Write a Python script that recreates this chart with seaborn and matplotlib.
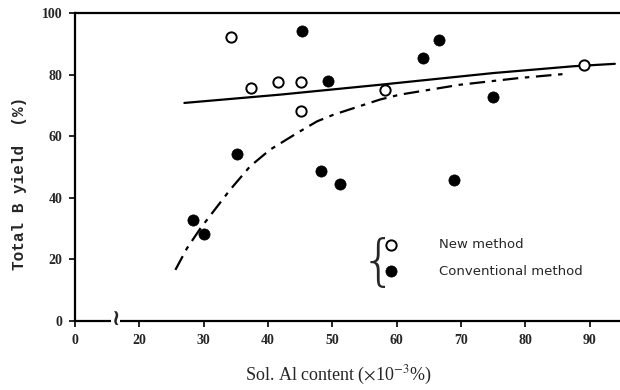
import matplotlib
matplotlib.use("Agg")
import matplotlib.pyplot as plt
import seaborn as sns

# datos (x en 10^-3 %, y en %)
new_x = [34.2, 37.4, 41.5, 45.2, 45.2, 58.2, 89.1]
new_y = [92.3, 75.5, 77.6, 77.7, 68.3, 74.9, 83.0]

conv_x = [28.4, 30.1, 35.2, 45.3, 48.2, 49.3, 51.2, 64.1, 66.5, 68.9, 75.0]
conv_y = [32.7, 28.4, 54.2, 94.3, 48.8, 77.9, 44.6, 85.3, 91.1, 45.9, 72.6]

# curva del metodo nuevo (linea continua)
solid_x = [27.0, 41.9, 57.4, 75.0, 87.4, 93.9]
solid_y = [70.8, 73.5, 76.7, 80.5, 82.7, 83.5]

# curva del metodo convencional (linea de trazos)
dash_x = [25.6, 27.4, 29.5, 34.1, 37.2, 40.3, 44.5, 47.6, 50.2, 57.4, 60.5, 69.8, 79.1, 86.6]
dash_y = [16.6, 23.6, 30.1, 42.6, 50.2, 55.6, 61.0, 64.8, 67.0, 71.9, 73.5, 76.7, 78.9, 80.3]

xticks = [10, 20, 30, 40, 50, 60, 70, 80, 90]
xticklabels = ["0", "20", "30", "40", "50", "60", "70", "80", "90"]
yticks = [0, 20, 40, 60, 80, 100]

sns.set_style("white")
plt.rcParams["mathtext.fontset"] = "stix"

fig = plt.figure(figsize=(6.2, 3.9), dpi=100)
ax = fig.add_axes([75 / 620, 1 - 321 / 390, 1 - 75 / 620, 308 / 390])

sns.lineplot(x=solid_x, y=solid_y, sort=False, estimator=None, color="black", lw=1.6, ax=ax)
sns.lineplot(x=dash_x, y=dash_y, sort=False, estimator=None, color="black", lw=1.6,
             dashes=False, ax=ax).lines[-1].set_dashes([7, 3, 2, 3])

sns.scatterplot(x=new_x, y=new_y, marker="o", s=55, facecolor="white", edgecolor="black",
                linewidth=1.4, ax=ax, label="New method", zorder=3)
sns.scatterplot(x=conv_x, y=conv_y, marker="o", s=65, color="black", edgecolor="black",
                linewidth=0.5, ax=ax, label="Conventional method", zorder=3)

ax.set_xlim(10, 94.7)
ax.set_ylim(0, 100)
ax.set_xticks(xticks)
ax.set_xticklabels(xticklabels)
ax.set_yticks(yticks)
for lab in ax.get_xticklabels() + ax.get_yticklabels():
    lab.set_fontfamily("Liberation Serif")
    lab.set_fontweight("bold")
    lab.set_fontsize(10)
ax.tick_params(axis="both", direction="out", length=4, width=1.2, color="black", pad=5,
               bottom=True, left=True)

for s in ["left", "bottom", "top"]:
    ax.spines[s].set_color("black")
    ax.spines[s].set_linewidth(1.6)
ax.spines["right"].set_visible(False)

# marca de corte del eje x
ax.text(16.3, 0.5, "\u2240", ha="center", va="center", fontsize=16, fontweight="bold",
        family="DejaVu Sans", clip_on=False,
        bbox=dict(facecolor="white", edgecolor="none", pad=0))

leg = ax.legend(loc="upper left", bbox_to_anchor=(0.546, 0.285), frameon=False,
                handletextpad=2.6, labelspacing=1.0, borderaxespad=0,
                prop={"family": "DejaVu Sans", "size": 9.5})
ax.text(0.556, 0.185, "{", transform=ax.transAxes, ha="center", va="center",
        fontsize=40, family="DejaVu Sans", fontweight="ultralight")

fig.text(20 / 620, 1 - 183 / 390, "Total B yield  (%)", rotation=90, ha="center", va="center",
         family="Liberation Mono", fontweight="bold", fontsize=11.5)
fig.text(338 / 620, 1 - 375 / 390, r"Sol. Al content ($\times$10$^{-3}$%)", ha="center",
         va="center", family="Liberation Serif", fontsize=13)

fig.savefig("out.png", dpi=100)
